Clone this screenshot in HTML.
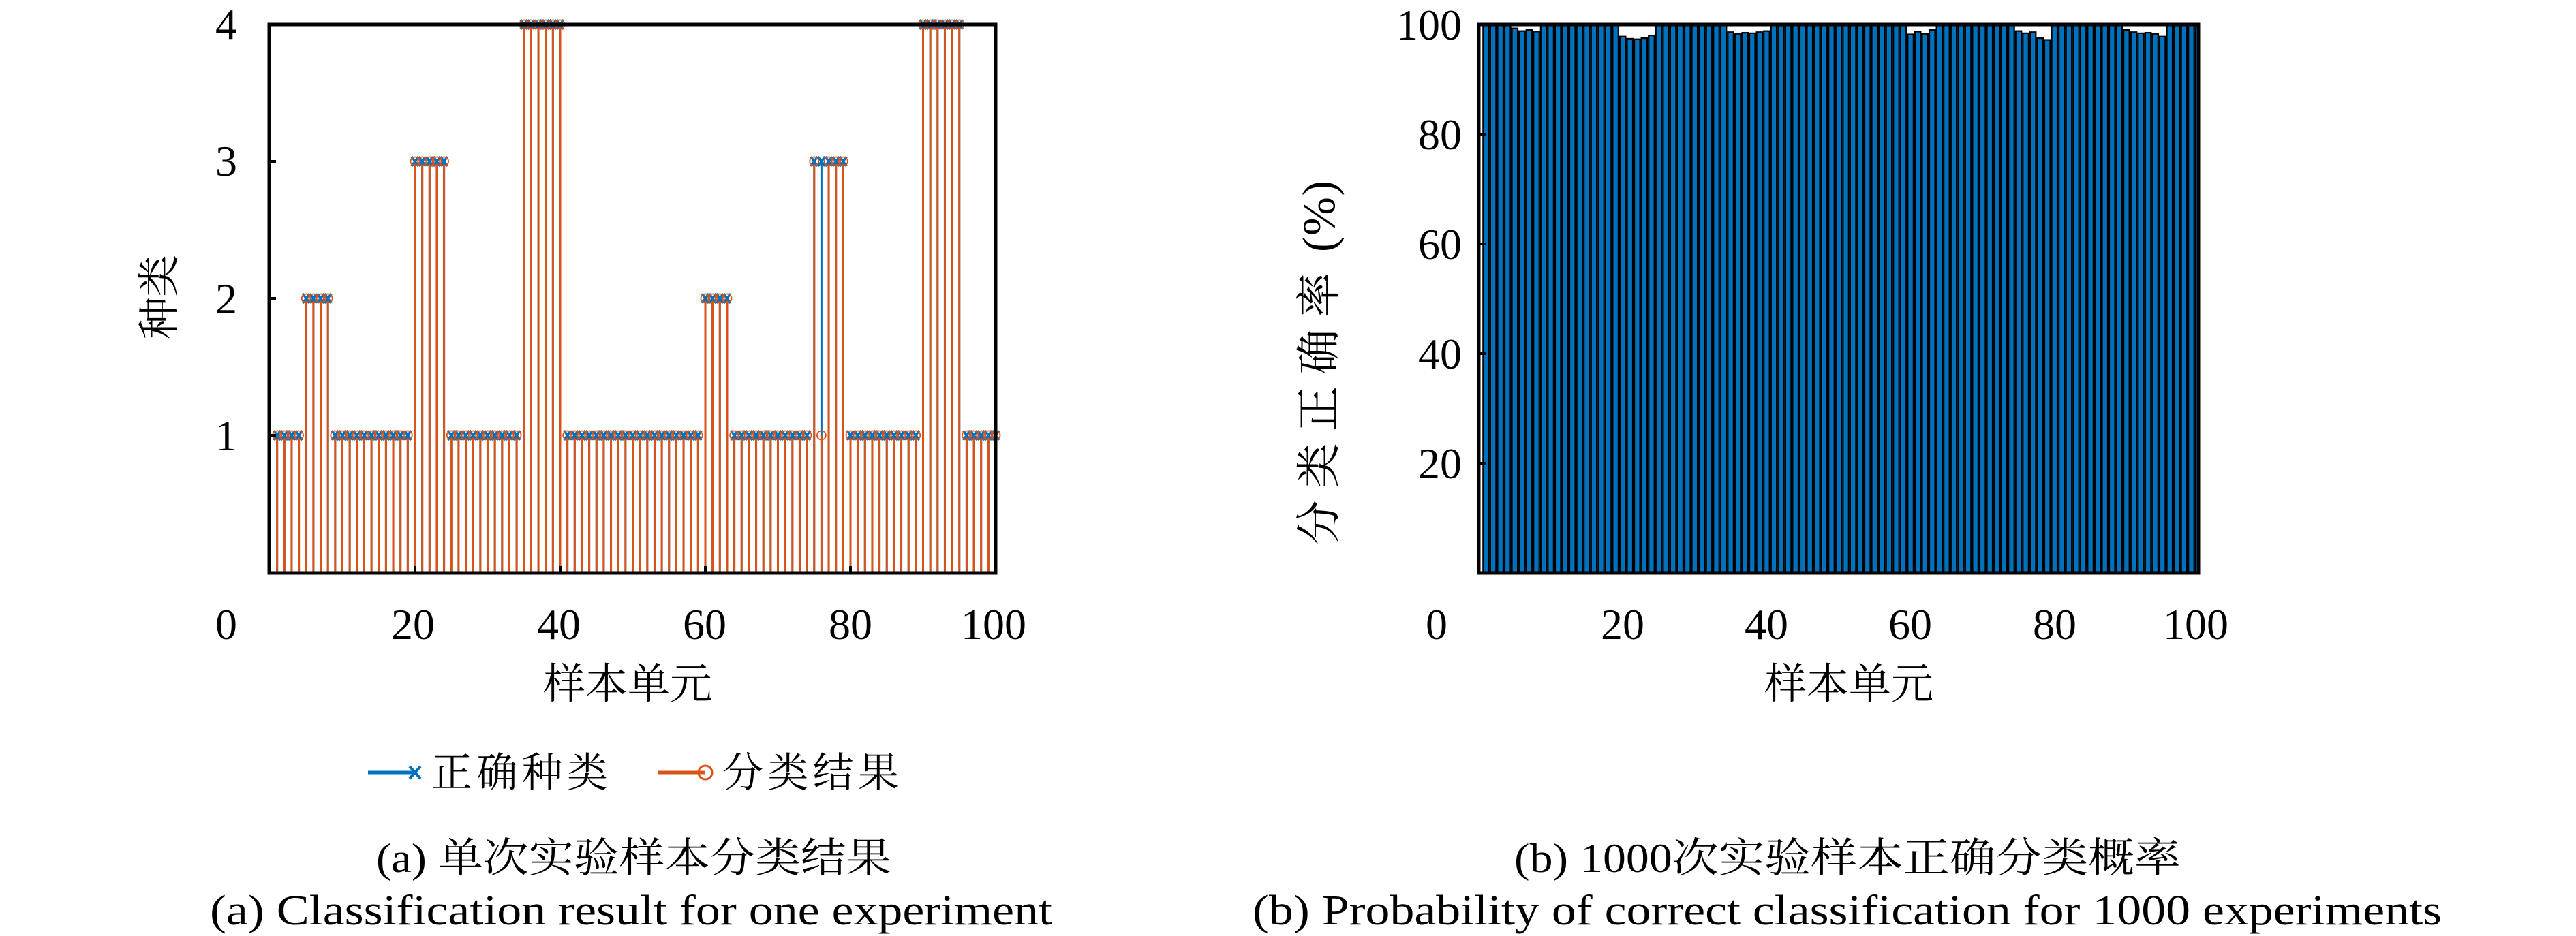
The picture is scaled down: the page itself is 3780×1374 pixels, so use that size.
<!DOCTYPE html>
<html><head><meta charset="utf-8"><style>html,body{margin:0;padding:0;background:#fff}svg{display:block}</style></head>
<body>
<svg id="s" width="3780" height="1374" viewBox="0 0 3780 1374" xmlns="http://www.w3.org/2000/svg">
<rect width="3780" height="1374" fill="#fff"/>
<g id="left"></g>
<g id="right"></g>
<g font-family="'Liberation Serif','Noto Serif CJK SC',serif" fill="#000">
  <g font-size="64" text-anchor="middle">
    <text x="332" y="661">1</text>
    <text x="332" y="460">2</text>
    <text x="332" y="258">3</text>
    <text x="332" y="57">4</text>
    <text x="332" y="938">0</text>
    <text x="606" y="938">20</text>
    <text x="820" y="938">40</text>
    <text x="1034" y="938">60</text>
    <text x="1248" y="938">80</text>
    <text x="1458" y="938">100</text>
  </g>
  <text transform="translate(255,436) rotate(-90)" font-size="62" text-anchor="middle" font-family="'Noto Serif CJK SC',serif">种类</text>
  <text x="921" y="1025" font-size="62" text-anchor="middle" font-family="'Noto Serif CJK SC',serif">样本单元</text>
  <line x1="540" y1="1134" x2="610" y2="1134" stroke="#0072BD" stroke-width="5"/>
  <path d="M601,1125 L617,1143 M617,1125 L601,1143" stroke="#0072BD" stroke-width="4"/>
  <text x="633" y="1155" font-size="60" textLength="259" font-family="'Noto Serif CJK SC',serif">正确种类</text>
  <line x1="966" y1="1134" x2="1035" y2="1134" stroke="#D95319" stroke-width="5"/>
  <circle cx="1035" cy="1134" r="10" fill="none" stroke="#D95319" stroke-width="3"/>
  <text x="1060" y="1155" font-size="60" textLength="259" font-family="'Noto Serif CJK SC',serif">分类结果</text>
  <text x="552" y="1280" font-size="60" textLength="756" lengthAdjust="spacingAndGlyphs">(a) 单次实验样本分类结果</text>
  <text x="308" y="1357" font-size="62" textLength="1236" lengthAdjust="spacingAndGlyphs">(a) Classification result for one experiment</text>
  <g font-size="64" text-anchor="end">
    <text x="2145" y="58">100</text>
    <text x="2145" y="219">80</text>
    <text x="2145" y="380">60</text>
    <text x="2145" y="541">40</text>
    <text x="2145" y="702">20</text>
  </g>
  <g font-size="64" text-anchor="middle">
    <text x="2108" y="938">0</text>
    <text x="2381" y="938">20</text>
    <text x="2592" y="938">40</text>
    <text x="2803" y="938">60</text>
    <text x="3015" y="938">80</text>
    <text x="3222" y="938">100</text>
  </g>
  <text transform="translate(1958,800) rotate(-90)" font-size="66" textLength="400" font-family="'Noto Serif CJK SC',serif">分类正确率</text>
  <text transform="translate(1958,370) rotate(-90)" font-size="68" textLength="105">(%)</text>
  <text x="2713" y="1025" font-size="62" text-anchor="middle" font-family="'Noto Serif CJK SC',serif">样本单元</text>
  <text x="2222" y="1280" font-size="60" textLength="978" lengthAdjust="spacingAndGlyphs">(b) 1000次实验样本正确分类概率</text>
  <text x="1838" y="1357" font-size="62" textLength="1745" lengthAdjust="spacingAndGlyphs">(b) Probability of correct classification for 1000 experiments</text>
</g>
</svg>
<script>
(function(){
var NS="http://www.w3.org/2000/svg";
function el(p,t,a){var e=document.createElementNS(NS,t);for(var k in a)e.setAttribute(k,a[k]);p.appendChild(e);return e;}
var seq=[[1,4],[2,4],[1,11],[3,5],[1,10],[4,6],[1,19],[2,4],[1,11],[3,1],[-1,1],[3,3],[1,10],[4,6],[1,5]];
var pred=[],truth=[];
seq.forEach(function(s){for(var i=0;i<s[1];i++){if(s[0]<0){truth.push(3);pred.push(1);}else{truth.push(s[0]);pred.push(s[0]);}}});
var L=document.getElementById('left');
var x0=396,xs=10.65,y0=840,ys=201;
function X(i){return x0+xs*i;} function Y(v){return y0-ys*v;}
for(var i=1;i<=100;i++) el(L,'line',{x1:X(i),y1:y0,x2:X(i),y2:Y(truth[i-1]),stroke:'#0072BD','stroke-width':3});
for(var i=1;i<=100;i++) el(L,'line',{x1:X(i),y1:y0,x2:X(i),y2:Y(pred[i-1]),stroke:'#D95319','stroke-width':3});
for(var i=1;i<=100;i++){var x=X(i),y=Y(truth[i-1]);el(L,'path',{d:'M'+(x-5)+','+(y-7)+'L'+(x+5)+','+(y+7)+'M'+(x+5)+','+(y-7)+'L'+(x-5)+','+(y+7),stroke:'#0072BD','stroke-width':3.5});}
for(var i=1;i<=100;i++){el(L,'circle',{cx:X(i),cy:Y(pred[i-1]),r:6.5,fill:'none',stroke:'#D95319','stroke-width':1.8});}
el(L,'rect',{x:395,y:36,width:1066,height:805,fill:'none',stroke:'#000','stroke-width':5});
[1,2,3].forEach(function(v){el(L,'line',{x1:395,y1:Y(v),x2:405,y2:Y(v),stroke:'#000','stroke-width':4});});
[20,40,60,80].forEach(function(v){el(L,'line',{x1:X(v),y1:841,x2:X(v),y2:831,stroke:'#000','stroke-width':4});});
var R=document.getElementById('right');
var vals=[];for(var i=0;i<100;i++)vals.push(100);
function setv(a,arr){for(var k=0;k<arr.length;k++)vals[a-1+k]=arr[k];}
setv(5,[99.3,98.8,99,98.7]);setv(20,[97.8,97.4,97.3,97.5,98]);setv(35,[98.6,98.3,98.5,98.4,98.6,98.8]);
setv(60,[98.2,98.7,98.3,99]);setv(75,[98.8,98.4,98.6,97.5,97.2]);setv(90,[99,98.6,98.4,98.5,98.3,97.8]);
var bx0=2170,bxs=10.56,by0=841,bys=8.05;
el(R,'defs',{}).innerHTML='<clipPath id="cp"><rect x="2170" y="20" width="1056" height="822"/></clipPath>';
var G=el(R,'g',{'clip-path':'url(#cp)'});
for(var i=1;i<=100;i++){var w=bxs*0.8,x=bx0+bxs*i-w/2,h=vals[i-1]*bys;
el(G,'rect',{x:x,y:by0-h,width:w,height:h,fill:'#0072BD',stroke:'#000','stroke-width':2.2});}
el(R,'rect',{x:2170,y:36,width:1056,height:805,fill:'none',stroke:'#000','stroke-width':5});
[20,40,60,80].forEach(function(v){var y=by0-v*bys;el(R,'line',{x1:2170,y1:y,x2:2180,y2:y,stroke:'#000','stroke-width':4});});
})();
</script>
</body></html>
